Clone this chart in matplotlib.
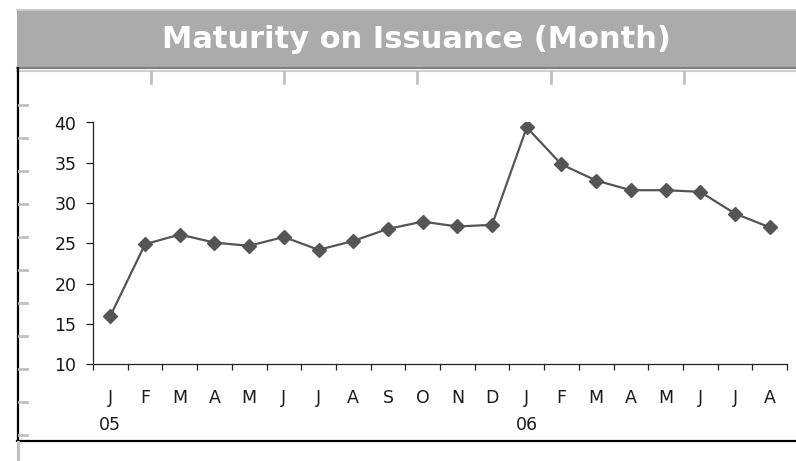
import numpy as np
import matplotlib
matplotlib.use("Agg")
import matplotlib.pyplot as plt
from matplotlib.lines import Line2D
from matplotlib.patches import Rectangle

# the original text is a horizontally stretched Arial; DejaVu Sans is the wider match
plt.rcParams["font.family"] = ["DejaVu Sans"]

# data
months = ["J", "F", "M", "A", "M", "J", "J", "A", "S", "O", "N", "D",
          "J", "F", "M", "A", "M", "J", "J", "A"]
years = ["05", "", "", "", "", "", "", "", "", "", "", "",
         "06", "", "", "", "", "", "", ""]
maturity = [16.0, 24.9, 26.1, 25.1, 24.7, 25.8, 24.2, 25.3, 26.8, 27.7,
            27.1, 27.3, 39.4, 34.8, 32.8, 31.6, 31.6, 31.4, 28.7, 27.0]

W, H = 796, 461
fig = plt.figure(figsize=(W / 100, H / 100), dpi=100)


def fx(px):
    return px / W


def fy(py):
    return 1 - py / H


# decorative frame: title bar, borders, gray ticks
fig.add_artist(Rectangle((fx(17), fy(67.5)), fx(800 - 17), fy(10.5) - fy(67.5),
                         facecolor="#ababab", edgecolor="none"))
fig.add_artist(Line2D([fx(17), fx(800)], [fy(10), fy(10)], color="#c8c8c8", lw=1.2))
fig.add_artist(Line2D([fx(17), fx(800)], [fy(67.5), fy(67.5)], color="#808080", lw=1.5))
fig.add_artist(Line2D([fx(17), fx(800)], [fy(71.5), fy(71.5)], color="#cfcfcf", lw=1.5))
fig.text(fx(416), fy(40), "Maturity on Issuance (Month)", color="white",
         fontsize=22, fontweight="bold", ha="center", va="center")

fig.add_artist(Line2D([fx(17.5), fx(17.5)], [fy(68), fy(441)], color="black", lw=1.6))
fig.add_artist(Line2D([fx(17), fx(800)], [fy(441), fy(441)], color="black", lw=1.6))
fig.add_artist(Line2D([fx(18), fx(18)], [fy(442), fy(461)], color="#c0c0c0", lw=2.2))
for py in np.arange(105, 440, 33):
    fig.add_artist(Line2D([fx(19), fx(27)], [fy(py), fy(py)], color="#c0c0c0", lw=2))
for px in [151, 284, 417, 551, 684]:
    fig.add_artist(Line2D([fx(px), fx(px)], [fy(72), fy(83)], color="#c0c0c0", lw=2))

# plot area
ax = fig.add_axes([fx(93), fy(364.3), fx(787 - 93), fy(122.5) - fy(364.3)])
x = np.arange(len(maturity))
ax.plot(x, maturity, color="#555555", lw=1.6, marker="D", markersize=7.5,
        markerfacecolor="#555555", markeredgecolor="#555555")

ax.set_xlim(-0.5, len(maturity) - 0.5)
ax.set_ylim(10, 40)
ax.set_yticks([10, 15, 20, 25, 30, 35, 40])
ax.set_xticks(x)
ax.set_xticklabels([m + "\n" + y for m, y in zip(months, years)],
                   linespacing=1.65, va="top")
ax.set_xticks(np.arange(len(maturity) + 1) - 0.5, minor=True)

for s in ["top", "right"]:
    ax.spines[s].set_visible(False)
for s in ["left", "bottom"]:
    ax.spines[s].set_color("#222222")
    ax.spines[s].set_linewidth(0.9)

ax.tick_params(axis="y", direction="out", length=5, width=0.9, color="#222222",
               labelsize=12.5, labelcolor="#1a1a1a", pad=7)
ax.tick_params(axis="x", which="major", length=0, labelsize=12.5,
               labelcolor="#1a1a1a", pad=18)
ax.tick_params(axis="x", which="minor", direction="out", length=4, width=0.9,
               color="#222222")

fig.savefig("out.png", dpi=100)
